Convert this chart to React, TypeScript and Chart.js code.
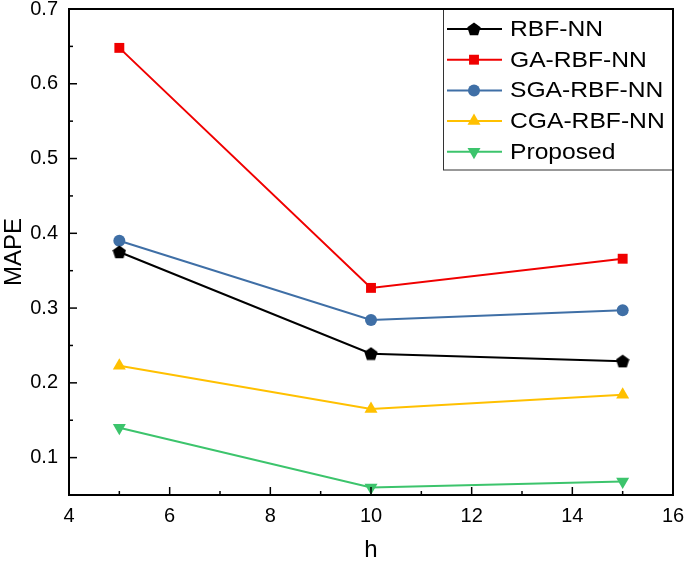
import React, { useEffect, useRef } from "react";
import { Chart, registerables } from "chart.js";
import { drawPoint } from "chart.js/helpers";

Chart.register(...registerables);

const hValues = [5, 10, 15];
const seriesNames = ["RBF-NN", "GA-RBF-NN", "SGA-RBF-NN", "CGA-RBF-NN", "Proposed"];
const rbfNN = [0.375, 0.239, 0.229];
const gaRbfNN = [0.648, 0.327, 0.366];
const sgaRbfNN = [0.39, 0.284, 0.297];
const cgaRbfNN = [0.223, 0.165, 0.184];
const proposed = [0.14, 0.06, 0.068];
const xTicks = [4, 6, 8, 10, 12, 14, 16];
const yTicks = [0.1, 0.2, 0.3, 0.4, 0.5, 0.6, 0.7];

const FONT = "'Liberation Sans', Arial, sans-serif";

function makePentagon(size: number, color: string): HTMLCanvasElement {
  const c = document.createElement("canvas");
  c.width = size;
  c.height = size;
  const ctx = c.getContext("2d")!;
  const r = size / 2;
  ctx.fillStyle = color;
  ctx.beginPath();
  for (let i = 0; i < 5; i++) {
    const a = -Math.PI / 2 + (i * 2 * Math.PI) / 5;
    const px = r + r * Math.cos(a);
    const py = r + 0.5 + r * Math.sin(a);
    if (i === 0) ctx.moveTo(px, py);
    else ctx.lineTo(px, py);
  }
  ctx.closePath();
  ctx.fill();
  return c;
}

export default function App() {
  const ref = useRef<HTMLCanvasElement | null>(null);

  useEffect(() => {
    if (!ref.current) return;
    const pent = makePentagon(14, "#000000");
    const colors = ["#000000", "#f00000", "#3f6fa6", "#ffc000", "#3cc46c"];
    const styles: any[] = [pent, "rect", "circle", "triangle", "triangle"];
    const radii = [7, 7, 6, 7.5, 7.5];
    const rotations = [0, 0, 0, 0, 180];
    const values = [rbfNN, gaRbfNN, sgaRbfNN, cgaRbfNN, proposed];

    const datasets = seriesNames.map((name, i) => ({
      label: name,
      data: hValues.map((h, j) => ({ x: h, y: values[i][j] })),
      borderColor: colors[i],
      backgroundColor: colors[i],
      borderWidth: 2,
      pointStyle: styles[i],
      pointRadius: radii[i],
      pointRotation: rotations[i],
      pointBorderWidth: 0,
      pointBackgroundColor: colors[i],
      pointBorderColor: colors[i],
      tension: 0,
      clip: false as any,
    }));

    const framePlugin = {
      id: "frameAndLegend",
      afterDraw(chart: any) {
        const ctx = chart.ctx;
        const a = chart.chartArea;
        const xs = chart.scales.x;
        const ys = chart.scales.y;
        ctx.save();
        ctx.strokeStyle = "#000";
        ctx.lineWidth = 2;
        ctx.strokeRect(a.left, a.top, a.right - a.left, a.bottom - a.top);
        // inward ticks
        ctx.lineWidth = 1.5;
        for (let v = 4; v <= 16; v += 1) {
          const px = xs.getPixelForValue(v);
          const len = v % 2 === 0 ? 8 : 4;
          ctx.beginPath();
          ctx.moveTo(px, a.bottom);
          ctx.lineTo(px, a.bottom - len);
          ctx.stroke();
        }
        for (let k = 1; k <= 14; k++) {
          const v = k * 0.05;
          const py = ys.getPixelForValue(v);
          const len = k % 2 === 0 ? 8 : 4;
          ctx.beginPath();
          ctx.moveTo(a.left, py);
          ctx.lineTo(a.left + len, py);
          ctx.stroke();
        }
        // legend
        const boxL = 443;
        const boxT = a.top;
        const boxR = a.right;
        const boxB = 170;
        ctx.fillStyle = "#fff";
        ctx.fillRect(boxL, boxT, boxR - boxL, boxB - boxT);
        ctx.lineWidth = 1;
        ctx.strokeStyle = "#333";
        ctx.strokeRect(boxL + 0.5, boxT, boxR - boxL, boxB - boxT);
        ctx.lineWidth = 2;
        ctx.strokeStyle = "#000";
        ctx.beginPath();
        ctx.moveTo(a.left, a.top);
        ctx.lineTo(a.right, a.top);
        ctx.lineTo(a.right, boxB + 2);
        ctx.stroke();
        chart.data.datasets.forEach((ds: any, i: number) => {
          const cy = 29 + i * 30.7;
          ctx.strokeStyle = ds.borderColor;
          ctx.lineWidth = 2;
          ctx.beginPath();
          ctx.moveTo(447, cy);
          ctx.lineTo(502, cy);
          ctx.stroke();
          ctx.fillStyle = ds.borderColor;
          drawPoint(
            ctx,
            {
              pointStyle: ds.pointStyle,
              radius: ds.pointRadius,
              rotation: ds.pointRotation,
              borderWidth: 0,
            } as any,
            474,
            cy
          );
          ctx.save();
          ctx.translate(510, cy + 1);
          ctx.scale(1.12, 1);
          ctx.font = `22px ${FONT}`;
          ctx.textBaseline = "middle";
          ctx.textAlign = "left";
          ctx.fillStyle = "#000";
          ctx.fillText(ds.label, 0, 0);
          ctx.restore();
        });
        ctx.restore();
      },
    };

    const chart = new Chart(ref.current, {
      type: "line",
      data: { datasets },
      plugins: [framePlugin],
      options: {
        animation: false,
        responsive: false,
        devicePixelRatio: 1,
        layout: { padding: { top: 9, right: 12, left: 0, bottom: 0 } },
        plugins: { legend: { display: false }, tooltip: { enabled: false } },
        scales: {
          x: {
            type: "linear",
            min: 4,
            max: 16,
            afterBuildTicks: (s: any) => {
              s.ticks = xTicks.map((v) => ({ value: v }));
            },
            afterFit: (s: any) => {
              s.height = 66;
              s.paddingLeft = 0;
              s.paddingRight = 0;
            },
            grid: { display: false, drawTicks: false },
            border: { display: false },
            ticks: {
              color: "#000",
              font: { family: FONT, size: 20 },
              padding: 9,
            },
            title: {
              display: true,
              text: "h",
              color: "#000",
              font: { family: FONT, size: 24 },
              padding: { top: 0, bottom: -4 },
            },
          },
          y: {
            type: "linear",
            min: 0.05,
            max: 0.7,
            afterBuildTicks: (s: any) => {
              s.ticks = yTicks.map((v) => ({ value: v }));
            },
            afterFit: (s: any) => {
              s.width = 69;
              s.paddingTop = 0;
              s.paddingBottom = 0;
            },
            grid: { display: false, drawTicks: false },
            border: { display: false },
            ticks: {
              color: "#000",
              font: { family: FONT, size: 20 },
              padding: 11,
              callback: (v: any) => Number(v).toFixed(1),
            },
            title: {
              display: true,
              text: "MAPE",
              color: "#000",
              font: { family: FONT, size: 24 },
              padding: { top: 0, bottom: 0 },
            },
          },
        },
      },
    });
    return () => chart.destroy();
  }, []);

  return (
    <div style={{ position: "fixed", left: 0, top: 0, width: 685, height: 561, background: "#fff" }}>
      <canvas ref={ref} width={685} height={561} style={{ width: 685, height: 561 }} />
    </div>
  );
}
